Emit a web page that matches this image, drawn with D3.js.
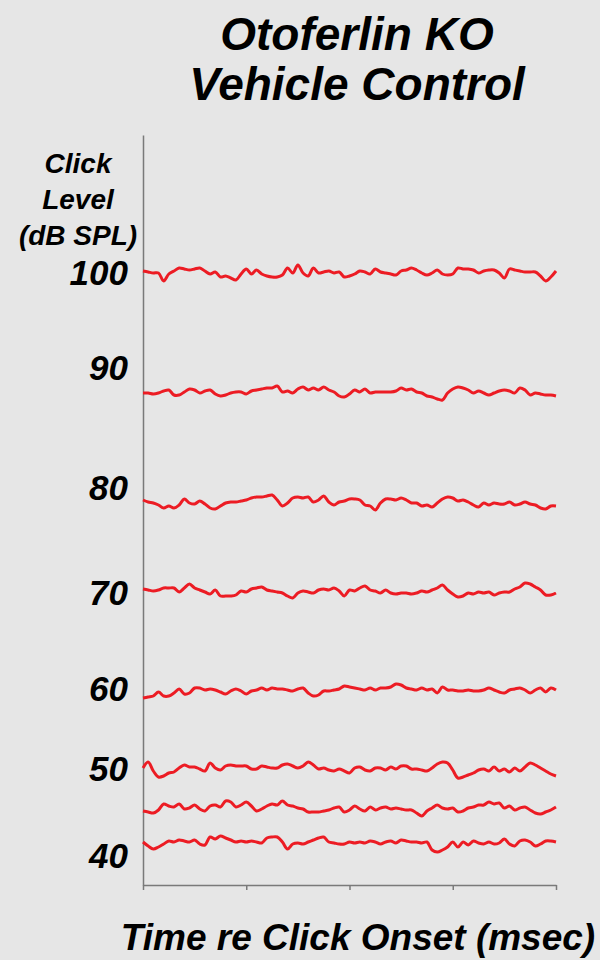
<!DOCTYPE html>
<html>
  <head>
    <title>Otoferlin KO Vehicle Control</title>
    <style>
      body { margin: 0; background: #e6e6e6; }
      text { font-family: "Liberation Sans", Arial, sans-serif; font-weight: bold; font-style: italic; fill: #000; }
      .trace { fill: none; stroke: #ec1c24; stroke-width: 3; stroke-linejoin: round; }
      .axis path, .axis line { stroke: #7a7a7a; stroke-width: 1.5; }
    </style>
  </head>

  <body>
    <div id="chart"></div>

    <script src="https://cdn.jsdelivr.net/npm/d3@7"></script>

<script>

  // time axis (msec), one sample every 0.125 ms
  var sampleStep = 0.125;
  var timeTicks = [0, 2.5, 5, 7.5, 10];

  // click levels of the traces (dB SPL), top to bottom
  var traceLevels = [100, 90, 80, 70, 60, 50, 45, 40];
  // vertical offset of each trace (display units)
  var traceOffsets = [613, 492, 382, 293, 193, 117, 77, 42];

  // level labels on the left and where they sit (display units)
  var labelLevels = ["100", "90", "80", "70", "60", "50", "40"];
  var labelOffsets = [613, 518, 398, 293, 197, 117, 30];

  // response waveforms, amplitude in display units
  var wave100 = [1,0,-1,-1,-9,-2,1,4,3,2,3,4,1,-2,0,-5,-4,-6,-8,-2,3,-2,2,-2,-4,-5,-5,-3,4,-1,
    7,-1,-4,4,-1,0,1,-1,0,-5,-4,-2,1,0,-2,3,0,-1,-2,-3,1,2,4,2,-1,-3,-1,2,-2,-3,
    -2,4,3,3,2,-1,1,2,2,-1,-6,3,2,1,0,0,0,-4,-9,-5,1];
  var wave90 = [0,0,-1,0,2,3,-2,-2,1,4,3,0,2,3,-1,-3,-2,0,1,1,-1,2,3,4,5,5,7,1,2,0,
    4,6,3,5,3,6,3,1,-3,-4,-1,3,1,4,0,1,1,1,1,2,5,3,4,1,0,-3,-4,-6,-7,0,
    4,6,5,3,0,2,0,-2,0,2,3,2,0,5,3,-2,0,-1,-2,-2,-3];
  var wave80 = [3,1,0,-2,-5,-3,-5,-2,4,0,-1,2,-1,-5,-6,-3,0,1,1,2,3,5,6,6,7,8,3,-3,0,5,
    6,5,6,1,3,7,1,-2,1,2,4,4,3,-2,-3,-7,0,4,4,3,5,3,0,0,-3,-2,-4,0,4,6,
    5,2,3,1,-2,-4,0,-2,0,-1,-1,1,-2,-1,1,-1,-2,-5,-6,-3,-3];
  var wave70 = [3,2,1,2,4,4,4,0,4,8,4,2,0,-2,2,-4,-4,-4,-3,1,0,3,4,5,2,1,0,-1,-4,-6,
    -1,1,0,-1,2,3,2,4,1,-4,2,1,4,6,2,1,-1,2,-1,-2,-1,-1,-2,-1,1,0,2,4,7,2,
    -2,-5,-4,-1,-2,0,-1,0,-3,-1,0,0,3,5,9,8,5,2,-3,-3,-1];
  var wave60 = [-6,-5,-4,0,-4,-4,-1,3,-2,-1,4,4,2,3,2,0,-2,1,3,1,-2,1,2,4,2,4,3,3,2,1,
    3,4,-1,-4,-3,1,1,2,3,6,5,4,3,2,4,2,4,4,5,8,7,4,3,2,4,2,3,-1,5,2,
    2,1,1,2,1,1,2,4,2,0,-1,2,3,4,2,-1,2,4,0,4,2];
  var wave50 = [0,6,-3,-9,-8,-5,-4,0,3,1,1,-1,-3,5,0,-2,2,3,2,2,2,-1,-1,2,1,0,0,3,4,2,
    0,2,6,3,-1,0,-2,-3,-1,-3,-5,0,1,-2,-3,0,0,-2,1,-1,2,2,-1,-1,-2,-3,0,4,6,5,
    -2,-10,-9,-7,-5,-2,-1,-3,1,-3,-1,-4,0,-3,1,5,3,0,-3,-6,-8];
  var wave45 = [-3,-4,-5,-2,4,2,1,4,-1,0,3,-1,-3,2,3,1,7,6,1,3,6,2,-3,-1,2,4,3,7,3,2,
    0,-1,-4,-4,-4,-3,-2,0,1,-4,-2,2,-1,-3,1,-2,0,1,-1,0,-1,-2,-2,-5,-8,-3,0,3,0,-1,
    0,-4,-3,0,1,3,3,6,4,5,0,2,-2,0,1,-2,-5,-6,-4,-2,1];
  var wave40 = [1,-3,-6,-4,-1,2,1,3,2,1,3,-1,-2,6,4,7,5,3,1,2,1,2,1,0,5,6,6,1,-6,-1,
    0,-1,1,3,5,6,1,0,-1,-1,1,0,1,0,2,1,-1,1,2,0,3,2,1,1,0,1,-7,-9,-7,-4,
    1,-4,1,-2,2,0,-1,1,-1,0,4,-1,-3,2,3,1,-3,-1,2,2,1];

  var waves = [wave100, wave90, wave80, wave70, wave60, wave50, wave45, wave40];

  var W = 600, H = 960;

  var svg = d3.select('#chart')
    .append('svg')
    .attr("width", W)
    .attr("height", H);

  svg.append("rect")
    .attr("width", W)
    .attr("height", H)
    .attr("fill", "#e6e6e6");

  var x = d3.scaleLinear()
    .domain([0, 10])
    .range([143, 556]);

  var y = d3.scaleLinear()
    .domain([0, 750])
    .range([885, 135]);

  // axes
  svg.append("g")
    .attr("class", "axis")
    .attr("transform", "translate(0," + y(0) + ")")
    .call(d3.axisBottom(x).tickValues(timeTicks).tickFormat("").tickSize(5).tickSizeOuter(0));

  svg.append("g")
    .attr("class", "axis")
    .attr("transform", "translate(" + x(0) + ",0)")
    .call(d3.axisLeft(y).tickValues([]).tickSizeOuter(0));

  // traces
  var line = d3.line()
    .x(function(d, i){ return x(i * sampleStep); })
    .curve(d3.curveCatmullRom.alpha(0.5));

  svg.selectAll('path.trace')
    .data(waves)
    .enter()
    .append('path')
    .attr('class', 'trace')
    .attr('d', function(w, k){
      return line.y(function(v){ return y(traceOffsets[k] + v); })(w);
    });

  // level labels
  svg.selectAll('text.level')
    .data(labelLevels)
    .enter()
    .append('text')
    .attr('class', 'level')
    .attr('x', 128)
    .attr('y', function(d, i){ return y(labelOffsets[i]); })
    .attr('dy', '0.36em')
    .attr('text-anchor', 'end')
    .style('font-size', '35px')
    .text(function(d){ return d; });

  // y title
  svg.append('text')
    .attr('text-anchor', 'middle')
    .style('font-size', '28px')
    .selectAll('tspan')
    .data(["Click", "Level", "(dB SPL)"])
    .enter()
    .append('tspan')
    .attr('x', 78)
    .attr('y', function(d, i){ return 173 + i * 36; })
    .text(function(d){ return d; });

  // chart title
  svg.append('text')
    .attr('text-anchor', 'middle')
    .style('font-size', '46px')
    .selectAll('tspan')
    .data(["Otoferlin KO", "Vehicle Control"])
    .enter()
    .append('tspan')
    .attr('x', 357)
    .attr('y', function(d, i){ return 50 + i * 50; })
    .text(function(d){ return d; });

  // x title
  svg.append('text')
    .attr('x', 358)
    .attr('y', 950)
    .attr('text-anchor', 'middle')
    .style('font-size', '37px')
    .text("Time re Click Onset (msec)");

</script>
  </body>
</html>
